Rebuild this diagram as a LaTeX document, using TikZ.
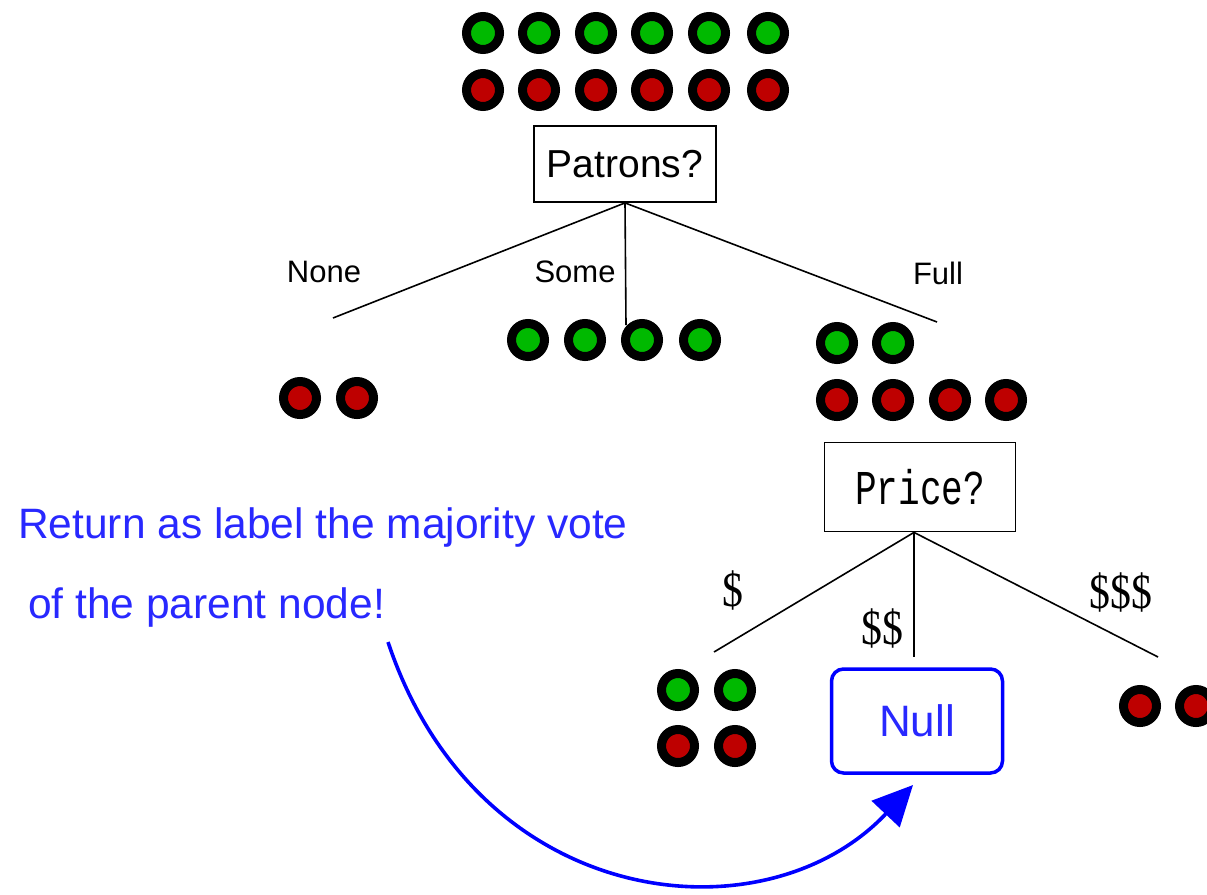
\documentclass[tikz,border=0pt]{standalone}
\usepackage{fontspec}
\usepackage{graphicx}
\setmainfont{Liberation Sans}
\newfontfamily\monof{Liberation Mono}
\newfontfamily\seriff{Liberation Serif}
\usetikzlibrary{arrows.meta}
\definecolor{dgreen}{RGB}{0,185,0}
\definecolor{dred}{RGB}{190,0,0}
\definecolor{tblue}{RGB}{40,40,255}
\tikzset{
  dotbase/.style={circle, draw=black, line width=9pt, minimum size=33pt, inner sep=0pt},
  gdot/.style={dotbase, fill=dgreen},
  rdot/.style={dotbase, fill=dred},
  testbox/.style={draw=black, line width=1.8pt, fill=white, inner sep=0pt},
  branch/.style={draw=black, line width=1.6pt},
  edgelbl/.style={inner sep=0pt, font=\fontsize{31}{36}\selectfont},
  dollbl/.style={inner sep=0pt, font=\seriff\fontsize{38}{42}\selectfont},
  note/.style={inner sep=0pt, text=tblue, font=\fontsize{42.5}{50}\selectfont, anchor=west},
}
\begin{document}
\begin{tikzpicture}[x=1pt,y=-1pt]
\useasboundingbox (0,0) rectangle (1207,894);
% root examples
\foreach \x [count=\i] in {483,539,596,652,709,768} {
  \node[gdot] (rg\i) at (\x,33) {};
  \node[rdot] (rr\i) at (\x,90) {};
}
% Patrons test
\node[testbox, minimum width=182pt, minimum height=76pt] (patrons) at (625,164)
  {\fontsize{39}{44}\selectfont Patrons?};
\coordinate (pnone) at (333,318);
\coordinate (psome) at (626,325);
\coordinate (pfull) at (937,322);
\draw[branch] (patrons.south) -- (pnone);
\draw[branch] (patrons.south) -- (psome);
\draw[branch] (patrons.south) -- (pfull);
\node[edgelbl] (lnone) at (324,272) {None};
\node[edgelbl] (lsome) at (575,272) {Some};
\node[edgelbl] (lfull) at (938,273) {Full};
% None
\node[rdot] (nr1) at (300,398) {};
\node[rdot] (nr2) at (357,398) {};
% Some
\foreach \x [count=\i] in {528,585,642,700} {
  \node[gdot] (sg\i) at (\x,340) {};
}
% Full
\node[gdot] (fg1) at (837,343) {};
\node[gdot] (fg2) at (893,343) {};
\foreach \x [count=\i] in {837,893,950,1006} {
  \node[rdot] (fr\i) at (\x,400) {};
}
% Price test
\node[testbox, minimum width=191pt, minimum height=89pt] (price) at (920,487)
  {\monof\fontsize{36}{40}\selectfont\scalebox{1}[1.35]{Price?}};
\coordinate (pr1) at (714,652);
\coordinate (pr2) at (914,657);
\coordinate (pr3) at (1158,657);
\draw[branch] (price.south -| 914,0) -- (pr1);
\draw[branch] (price.south -| 914,0) -- (pr2);
\draw[branch] (price.south -| 914,0) -- (pr3);
\node[dollbl] (d1) at (733,590) {\scalebox{1.1}[1.3]{\$}};
\node[dollbl] (d2) at (882,628) {\scalebox{1.1}[1.3]{\$\$}};
\node[dollbl] (d3) at (1121,592) {\scalebox{1.1}[1.3]{\$\$\$}};
% $ examples
\node[gdot] (cg1) at (678,690) {};
\node[gdot] (cg2) at (735,690) {};
\node[rdot] (cr1) at (678,746) {};
\node[rdot] (cr2) at (735,746) {};
% Null
\node[draw=blue, line width=3.5pt, rounded corners=12pt, minimum width=171pt, minimum height=104pt,
  text=tblue, font=\fontsize{44}{50}\selectfont] (null) at (917,721) {Null};
% $$$ examples
\node[rdot] (er1) at (1140,706) {};
\node[rdot] (er2) at (1196,706) {};
% note
\node[note] (note1) at (18,528) {Return as label the majority vote};
\node[note] (note2) at (28,608) {of the parent node!};
\coordinate (astart) at (388,642);
\coordinate (aend) at (913,785);
\draw[blue, line width=3.6pt, -{Triangle[length=40pt,width=38pt]}]
  (astart) .. controls (478,912) and (765,942) .. (aend);
\end{tikzpicture}
\end{document}
